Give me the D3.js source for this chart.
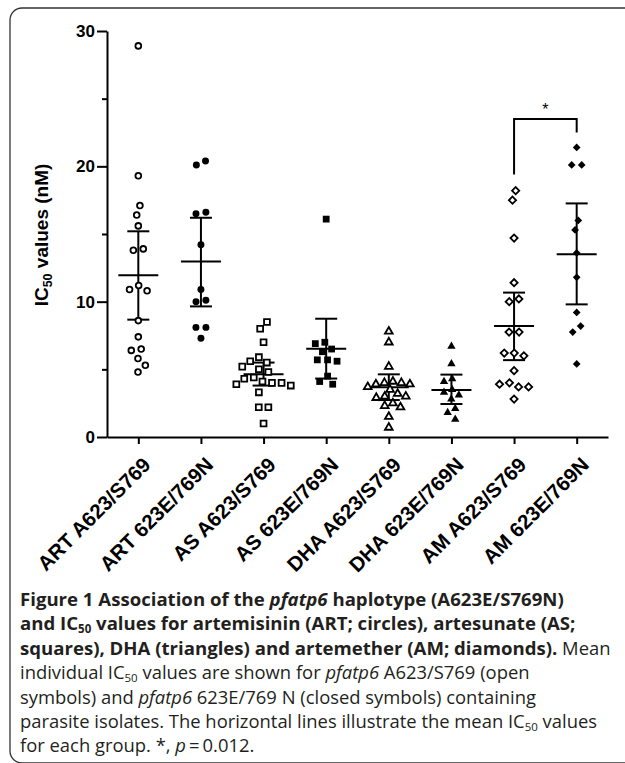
<!DOCTYPE html>
<html>
<head>
  <meta charset="utf-8">
  <title>pfatp6 haplotype and IC50 values</title>
  <script src="https://d3js.org/d3.v7.min.js"></script>
  <style>
    html, body {
      margin: 0;
      padding: 0;
      background: #fff;
    }
    svg { display: block; }
    .axis path, .axis line {
      stroke: #000;
      stroke-width: 2px;
    }
    .axis text {
      font-family: "Liberation Sans", Arial, sans-serif;
      font-weight: bold;
      fill: #000;
    }
    .caption {
      font-family: "Open Sans", sans-serif;
      fill: #231f20;
    }
  </style>
</head>
<body>
  <svg id="chart" width="625" height="763"></svg>

  <script>
    // groups along the x axis
    const categories = ["ART A623/S769", "ART 623E/769N", "AS A623/S769", "AS 623E/769N",
                        "DHA A623/S769", "DHA 623E/769N", "AM A623/S769", "AM 623E/769N"];

    // individual IC50 values (nM)
    const artWild = [28.9, 19.3, 17.1, 16.4, 15.6, 13.9, 13.8, 11.2, 10.9, 10.8, 8.6, 7.4, 6.5, 6.4, 5.8, 5.3, 4.8];
    const artMut  = [20.4, 20.1, 16.6, 16.5, 14.2, 10.9, 10.1, 10.0, 8.1, 8.1, 7.3];
    const asWild  = [8.5, 8.0, 7.0, 5.9, 5.6, 5.5, 5.2, 5.0, 4.8, 4.4, 4.3, 4.1, 4.0, 4.0, 3.9, 3.8, 3.3, 2.2, 2.2, 1.0];
    const asMut   = [16.1, 7.0, 6.9, 6.5, 6.3, 5.7, 5.6, 5.7, 4.5, 4.1, 3.9];
    const dhaWild = [7.8, 7.0, 5.2, 4.1, 4.0, 4.0, 3.9, 3.9, 3.7, 3.5, 3.2, 3.0, 3.0, 2.9, 2.5, 2.3, 2.2, 1.5, 0.7];
    const dhaMut  = [6.7, 5.4, 4.3, 4.1, 3.5, 3.3, 3.1, 2.8, 2.1, 1.8, 1.3];
    const amWild  = [18.2, 17.5, 14.7, 11.4, 10.2, 10.0, 7.75, 7.75, 6.2, 6.0, 6.2, 4.9, 4.0, 3.7, 3.7, 3.9, 2.8];
    const amMut   = [21.4, 20.1, 20.1, 16.0, 15.3, 13.6, 11.8, 9.2, 8.2, 7.75, 5.4];

    // mean and error bar ends per group
    const means  = [11.95, 12.96, 4.64, 6.53, 3.67, 3.47, 8.2, 13.5];
    const barLow = [8.67, 9.65, 3.8, 4.32, 2.73, 2.44, 5.68, 9.8];
    const barHigh = [15.2, 16.2, 5.5, 8.74, 4.63, 4.61, 10.67, 17.26];

    const symbolNames = ["circle", "circle", "square", "square", "triangle", "triangle", "diamond", "diamond"];
    const filled = [false, true, false, true, false, true, false, true];

    const yTicks = [0, 10, 20, 30];
    const yMinorTicks = [5, 15, 25];

    // significance bracket between the two AM groups (y values)
    const bracket = { from: 6, to: 7, top: 23.5, leftEnd: 19.4, rightEnd: 22.5, label: "*" };

    const groups = [artWild, artMut, asWild, asMut, dhaWild, dhaMut, amWild, amMut];

    const svg = d3.select("#chart");

    // frame round the figure
    svg.append("rect")
      .attr("x", 10).attr("y", 8)
      .attr("width", 640).attr("height", 755)
      .attr("rx", 12)
      .attr("fill", "none")
      .attr("stroke", "#333")
      .attr("stroke-width", 1.3);

    const x = d3.scalePoint().domain(categories).range([107, 608]).padding(0.5);
    const y = d3.scaleLinear().domain([0, 30]).range([437, 31]);

    // y axis
    const yAxis = svg.append("g")
      .attr("class", "axis")
      .attr("transform", "translate(107,0)")
      .call(d3.axisLeft(y).tickValues(yTicks).tickSize(10).tickSizeOuter(0).tickPadding(2));
    yAxis.selectAll("text").style("font-size", "17px");

    svg.append("g")
      .attr("class", "axis")
      .attr("transform", "translate(107,0)")
      .call(d3.axisLeft(y).tickValues(yMinorTicks).tickSize(5).tickSizeOuter(0).tickFormat(""))
      .select(".domain").remove();

    // x axis
    const xAxis = svg.append("g")
      .attr("class", "axis")
      .attr("transform", "translate(0,437)")
      .call(d3.axisBottom(x).tickSize(7).tickSizeOuter(0));
    xAxis.selectAll(".tick text")
      .style("font-size", "20.5px")
      .attr("text-anchor", "end")
      .attr("x", 0).attr("y", 0)
      .attr("dy", "0.35em")
      .attr("transform", "translate(8,24) rotate(-45)");

    // y axis title
    const yTitle = svg.append("text")
      .attr("transform", "translate(48,235) rotate(-90)")
      .attr("text-anchor", "middle")
      .style("font-family", "'Liberation Sans', Arial, sans-serif")
      .style("font-weight", "bold")
      .style("font-size", "19px");
    yTitle.append("tspan").text("IC");
    yTitle.append("tspan").text("50").style("font-size", "12.5px").attr("dy", 4);
    yTitle.append("tspan").text(" values (nM)").attr("dy", -4);

    // symbols; gap = minimum distance between two symbol centres
    const shapes = {
      circle:   { type: d3.symbolCircle, open: 26, solid: 38, rot: 0, gap: 10 },
      square:   { type: d3.symbolSquare, open: 34, solid: 46, rot: 0, gap: 9.6 },
      triangle: { type: d3.symbolTriangle, open: 26, solid: 30, rot: 0, gap: 8.6 },
      diamond:  { type: d3.symbolSquare, open: 26, solid: 30, rot: 45, gap: 10 }
    };

    // beeswarm: each point goes as close to the centre line as it can,
    // then every vertically linked cluster is centred on the group
    function dodge(values, gap) {
      const pts = values.map(v => ({ v: v, py: y(v), dx: 0 })).sort((a, b) => a.py - b.py);
      const placed = [];
      pts.forEach(p => {
        const near = placed.filter(q => Math.abs(q.py - p.py) < gap);
        const cand = [0];
        near.forEach(q => {
          const w = Math.sqrt(gap * gap - (q.py - p.py) * (q.py - p.py));
          cand.push(q.dx - w, q.dx + w);
        });
        cand.sort((a, b) => Math.abs(a) - Math.abs(b) || a - b);
        p.dx = cand.find(c => near.every(q => Math.hypot(c - q.dx, p.py - q.py) >= gap - 1e-6));
        placed.push(p);
      });
      let cluster = [];
      const centre = () => {
        const ext = d3.extent(cluster, d => d.dx);
        const shift = (ext[0] + ext[1]) / 2;
        cluster.forEach(d => { d.dx -= shift; });
      };
      pts.forEach((p, i) => {
        if (i > 0 && p.py - pts[i - 1].py >= gap) { centre(); cluster = []; }
        cluster.push(p);
      });
      centre();
      return pts;
    }

    groups.forEach((vals, gi) => {
      const cx = x(categories[gi]);
      const s = shapes[symbolNames[gi]];
      const isFilled = filled[gi];
      const pts = dodge(vals, s.gap);
      const sym = d3.symbol().type(s.type).size(isFilled ? s.solid : s.open);

      const g = svg.append("g");

      // mean and error bar
      g.append("line")
        .attr("x1", cx).attr("x2", cx)
        .attr("y1", y(barLow[gi])).attr("y2", y(barHigh[gi]))
        .attr("stroke", "#000").attr("stroke-width", 2);
      [barLow[gi], barHigh[gi]].forEach(v => {
        g.append("line")
          .attr("x1", cx - 11).attr("x2", cx + 11)
          .attr("y1", y(v)).attr("y2", y(v))
          .attr("stroke", "#000").attr("stroke-width", 2);
      });
      g.append("line")
        .attr("x1", cx - 20).attr("x2", cx + 20)
        .attr("y1", y(means[gi])).attr("y2", y(means[gi]))
        .attr("stroke", "#000").attr("stroke-width", 2);

      g.selectAll("path.pt")
        .data(pts)
        .enter().append("path")
        .attr("class", "pt")
        .attr("d", sym)
        .attr("transform", d => "translate(" + (cx + d.dx) + "," + d.py + ") rotate(" + s.rot + ")")
        .attr("fill", isFilled ? "#000" : "#fff")
        .attr("stroke", "#000")
        .attr("stroke-width", isFilled ? 0 : 1.8);
    });

    // significance bracket
    const bx1 = x(categories[bracket.from]), bx2 = x(categories[bracket.to]);
    svg.append("path")
      .attr("d", "M" + bx1 + "," + y(bracket.leftEnd) + "V" + y(bracket.top) +
                 "H" + bx2 + "V" + y(bracket.rightEnd))
      .attr("fill", "none")
      .attr("stroke", "#000")
      .attr("stroke-width", 2);
    svg.append("text")
      .attr("x", (bx1 + bx2) / 2)
      .attr("y", y(bracket.top) - 4)
      .attr("text-anchor", "middle")
      .style("font-family", "'Liberation Sans', Arial, sans-serif")
      .style("font-size", "16px")
      .text(bracket.label);

    // caption
    const captionLines = [
      [{ t: "Figure 1 ", b: 1 }, { t: "Association of the ", b: 1 }, { t: "pfatp6", b: 1, i: 1 }, { t: " haplotype (A623E/S769N)", b: 1 }],
      [{ t: "and IC", b: 1 }, { t: "50", b: 1, sub: 1 }, { t: " values for artemisinin (ART; circles), artesunate (AS;", b: 1 }],
      [{ t: "squares), DHA (triangles) and artemether (AM; diamonds).", b: 1 }, { t: " Mean" }],
      [{ t: "individual IC" }, { t: "50", sub: 1 }, { t: " values are shown for " }, { t: "pfatp6", i: 1 }, { t: " A623/S769 (open" }],
      [{ t: "symbols) and " }, { t: "pfatp6", i: 1 }, { t: " 623E/769 N (closed symbols) containing" }],
      [{ t: "parasite isolates. The horizontal lines illustrate the mean IC" }, { t: "50", sub: 1 }, { t: " values" }],
      [{ t: "for each group. *, " }, { t: "p", i: 1 }, { t: "\u2009=\u20090.012." }]
    ];

    captionLines.forEach((segs, li) => {
      const t = svg.append("text")
        .attr("class", "caption")
        .attr("x", 20)
        .attr("y", 606 + li * 24.4);
      let shifted = false;
      segs.forEach(sg => {
        const ts = t.append("tspan").text(sg.t);
        ts.style("font-weight", sg.b ? "700" : "400")
          .style("font-size", sg.b ? "18.6px" : "18.4px");
        if (sg.i) ts.style("font-style", "italic");
        if (sg.sub) { ts.style("font-size", "11.5px").attr("dy", 2.5); shifted = true; }
        else if (shifted) { ts.attr("dy", -2.5); shifted = false; }
      });
    });
  </script>
</body>
</html>
